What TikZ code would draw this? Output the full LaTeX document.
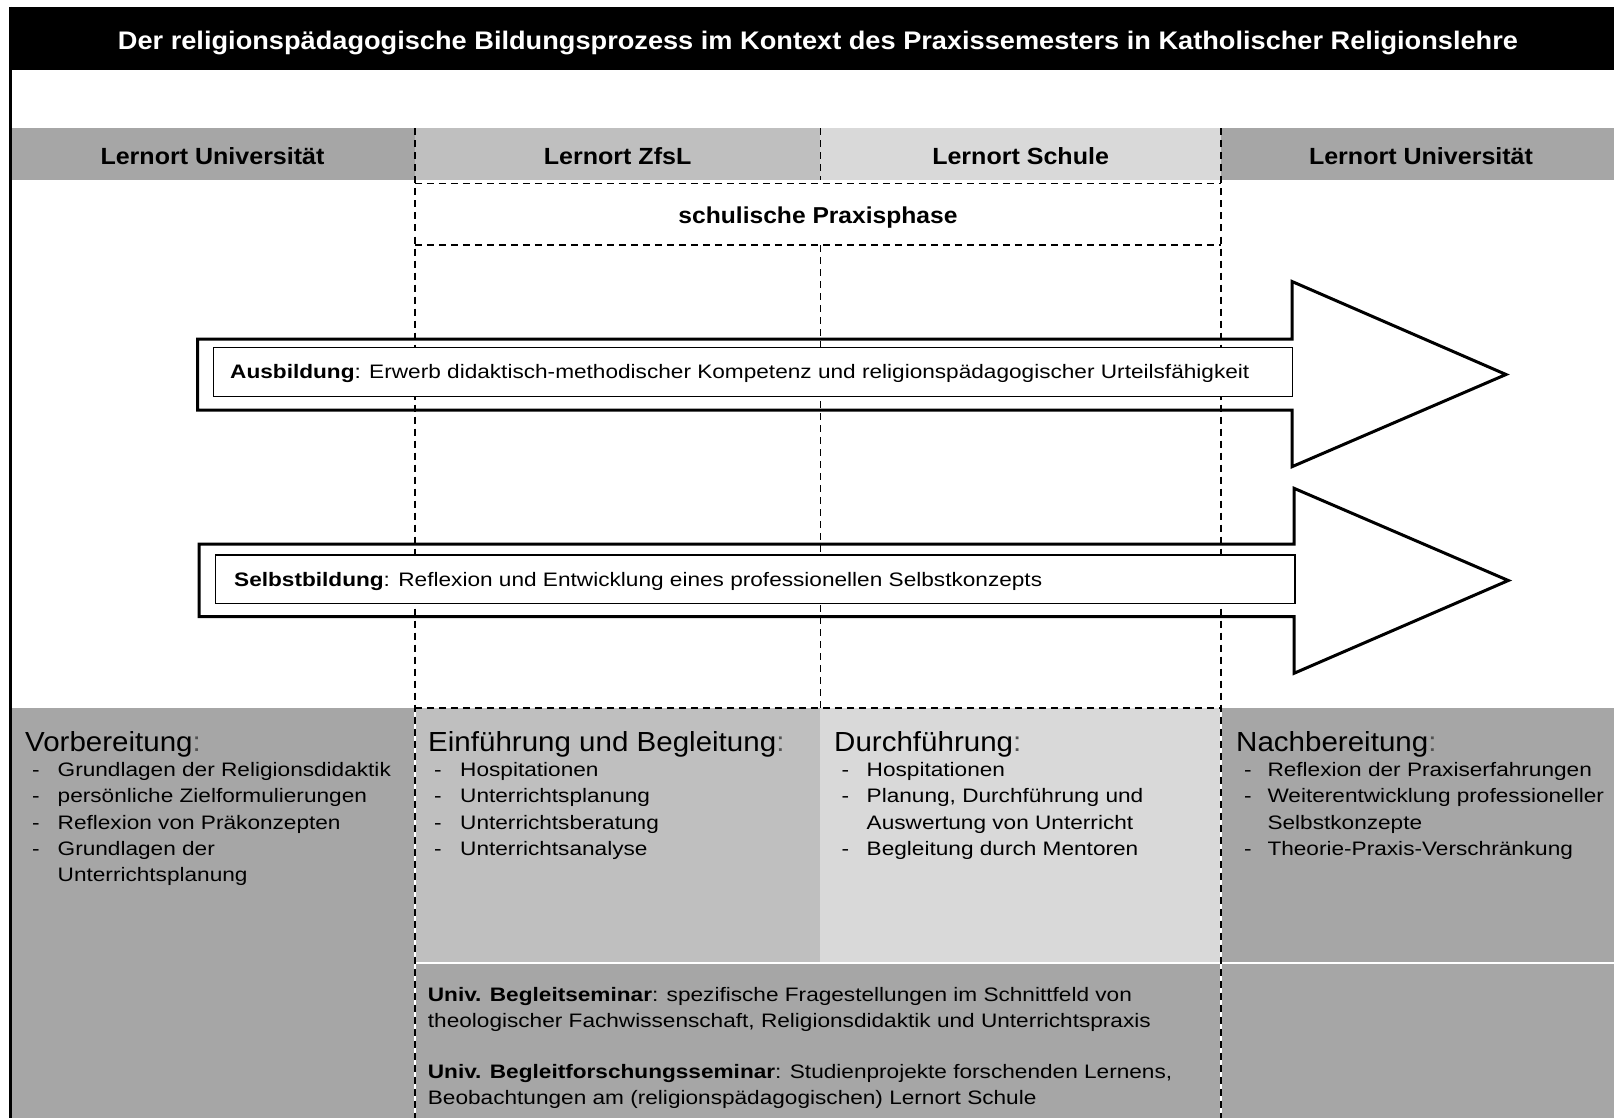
\documentclass[tikz,border=0pt]{standalone}
\usepackage{fontspec}
\setmainfont{Liberation Sans}[FakeStretch=1.12]
\newfontfamily\smallfam{Liberation Sans}[FakeStretch=1.16]
\newfontfamily\headfam{Liberation Sans}[FakeStretch=1.07]
\definecolor{gA}{HTML}{A6A6A6}
\definecolor{gB}{HTML}{BFBFBF}
\definecolor{gC}{HTML}{D9D9D9}
\definecolor{colc}{HTML}{505050}
\tikzset{
  txt/.style={anchor=base west, inner sep=0pt, font=\smallfam\fontsize{19.5}{24}\selectfont},
  ctxt/.style={anchor=base, inner sep=0pt},
  hdr/.style={ctxt, font=\headfam\bfseries\fontsize{23.4}{28}\selectfont},
  headg/.style={anchor=base west, inner sep=0pt, font=\headfam\fontsize{27.6}{32}\selectfont},
  dashline/.style={line width=1.6pt, dash pattern=on 7pt off 5pt},
  whiteline/.style={line width=1.6pt, white},
  arrowline/.style={line width=3pt, line join=miter},
  innerbox/.style={line width=1.5pt, fill=white},
}
\begin{document}
\begin{tikzpicture}[x=1pt,y=-1pt]
\useasboundingbox (0,0) rectangle (1614,1118);
\fill[white] (0,0) rectangle (1614,1118);
% title bar
\fill[black] (9,7) rectangle (1614,70);
\node[ctxt, text=white, font=\headfam\bfseries\fontsize{25.4}{30}\selectfont] (title) at (818,50)
  {Der religionspädagogische Bildungsprozess im Kontext des Praxissemesters in Katholischer Religionslehre};
% header row
\fill[gA] (11,128.5) rectangle (414.8,180.5);
\fill[gB] (414.8,128.5) rectangle (820.4,180.5);
\fill[gC] (820.4,128.5) rectangle (1220.8,180.5);
\fill[gA] (1220.8,128.5) rectangle (1614,180.5);
% lower area
\fill[gA] (11,707.7) rectangle (414.8,1118);
\fill[gB] (414.8,707.7) rectangle (820.4,962.5);
\fill[gC] (820.4,707.7) rectangle (1220.8,962.5);
\fill[gA] (1220.8,707.7) rectangle (1614,1118);
\fill[gA] (414.8,962.5) rectangle (1220.8,1118);
\draw[white, line width=2pt] (414.8,962.5) -- (1614,962.5);
% left border
\draw[line width=2.5pt] (10.5,7) -- (10.5,1118);
% dashed grid
\draw[whiteline] (414.8,707.7) -- (414.8,1118);
\draw[whiteline] (1220.8,707.7) -- (1220.8,1118);
\draw[dashline] (414.8,128.5) -- (414.8,1118);
\draw[dashline] (820.4,128.5) -- (820.4,180.5);
\draw[dashline] (820.4,245) -- (820.4,707.7);
\draw[dashline] (1220.8,128.5) -- (1220.8,1118);
\draw[dashline] (414.8,707.7) -- (1220.8,707.7);
\draw[dashline] (414.8,183.5) -- (1220.8,183.5);
\draw[dashline] (414.8,245) -- (1220.8,245);
% header texts
\node[hdr] (h1) at (212.5,165) {Lernort Universität};
\node[hdr] (h2) at (617.6,165) {Lernort ZfsL};
\node[hdr] (h3) at (1020.6,165) {Lernort Schule};
\node[hdr] (h4) at (1421,165) {Lernort Universität};
\node[ctxt, font=\headfam\bfseries\fontsize{23}{26}\selectfont] (praxis) at (818,223.5) {schulische Praxisphase};
% arrows
\draw[arrowline] (197.5,339) -- (1292,339) -- (1292,281.5) -- (1506,374.5) -- (1292,466.7) -- (1292,410) -- (197.5,410) -- cycle;
\draw[innerbox] (213.5,347.3) rectangle (1292.7,396.5);
\node[txt] (aus) at (230,378.3) {\textbf{Ausbildung}: Erwerb didaktisch-methodischer Kompetenz und religionspädagogischer Urteilsfähigkeit};
\draw[arrowline] (199,544) -- (1294,544) -- (1294,488.3) -- (1508.3,580.5) -- (1294,673.3) -- (1294,616.7) -- (199,616.7) -- cycle;
\draw[innerbox] (215.7,555) rectangle (1295,603.5);
\node[txt] (selbst) at (234,586.7) {\textbf{Selbstbildung}: Reflexion und Entwicklung eines professionellen Selbstkonzepts};
% headings
\node[headg] (vor) at (25,751) {Vorbereitung\textcolor{colc}{:}};
\node[headg] (ein) at (428,751) {Einführung und Begleitung\textcolor{colc}{:}};
\node[headg] (dur) at (834,751) {Durchführung\textcolor{colc}{:}};
\node[headg] (nach) at (1236,751) {Nachbereitung\textcolor{colc}{:}};
% column 1
\node[txt] (d1a) at (32,776.7) {-};
\node[txt] (t1a) at (57.5,776.7) {Grundlagen der Religionsdidaktik};
\node[txt] (d1b) at (32,802.9) {-};
\node[txt] (t1b) at (57.5,802.9) {persönliche Zielformulierungen};
\node[txt] (d1c) at (32,829.1) {-};
\node[txt] (t1c) at (57.5,829.1) {Reflexion von Präkonzepten};
\node[txt] (d1d) at (32,855.3) {-};
\node[txt] (t1d) at (57.5,855.3) {Grundlagen der};
\node[txt] (t1e) at (57.5,881.5) {Unterrichtsplanung};
% column 2
\node[txt] (d2a) at (434,776.7) {-};
\node[txt] (t2a) at (460,776.7) {Hospitationen};
\node[txt] (d2b) at (434,802.9) {-};
\node[txt] (t2b) at (460,802.9) {Unterrichtsplanung};
\node[txt] (d2c) at (434,829.1) {-};
\node[txt] (t2c) at (460,829.1) {Unterrichtsberatung};
\node[txt] (d2d) at (434,855.3) {-};
\node[txt] (t2d) at (460,855.3) {Unterrichtsanalyse};
% column 3
\node[txt] (d3a) at (841.5,776.7) {-};
\node[txt] (t3a) at (866.5,776.7) {Hospitationen};
\node[txt] (d3b) at (841.5,802.9) {-};
\node[txt] (t3b) at (866.5,802.9) {Planung, Durchführung und};
\node[txt] (t3c) at (866.5,829.1) {Auswertung von Unterricht};
\node[txt] (d3d) at (841.5,855.3) {-};
\node[txt] (t3d) at (866.5,855.3) {Begleitung durch Mentoren};
% column 4
\node[txt] (d4a) at (1244,776.7) {-};
\node[txt] (t4a) at (1267.3,776.7) {Reflexion der Praxiserfahrungen};
\node[txt] (d4b) at (1244,802.9) {-};
\node[txt] (t4b) at (1267.3,802.9) {Weiterentwicklung professioneller};
\node[txt] (t4c) at (1267.3,829.1) {Selbstkonzepte};
\node[txt] (d4d) at (1244,855.3) {-};
\node[txt] (t4d) at (1267.3,855.3) {Theorie-Praxis-Verschränkung};
% univ seminars
\node[txt] (u1) at (427.7,1001.5) {\textbf{Univ. Begleitseminar}: spezifische Fragestellungen im Schnittfeld von};
\node[txt] (u2) at (427.7,1027.5) {theologischer Fachwissenschaft, Religionsdidaktik und Unterrichtspraxis};
\node[txt] (u3) at (427.7,1078) {\textbf{Univ. Begleitforschungsseminar}: Studienprojekte forschenden Lernens,};
\node[txt] (u4) at (427.7,1104) {Beobachtungen am (religionspädagogischen) Lernort Schule};
\end{tikzpicture}
\end{document}
